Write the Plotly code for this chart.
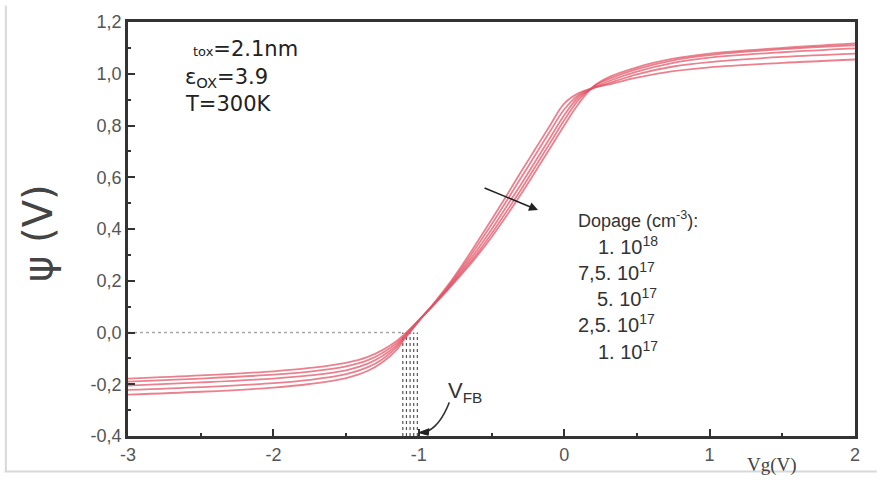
import plotly.graph_objects as go

# ---- data ----
vg = [-3.0, -2.5, -2.0, -1.75, -1.5, -1.35, -1.25, -1.15, -1.1, -1.05, -1.0, -0.9, -0.8, -0.7,
      -0.6, -0.5, -0.4, -0.3, -0.2, -0.1, 0.0, 0.1, 0.2, 0.3, 0.5, 0.75, 1.0, 1.5, 2.0]

psi_1e18 = [-0.178, -0.166, -0.150, -0.137, -0.117, -0.094, -0.068, -0.032, -0.007, 0.020, 0.048,
            0.105, 0.165, 0.228, 0.295, 0.368, 0.448, 0.532, 0.620, 0.710, 0.800, 0.885, 0.950,
            0.985, 1.025, 1.058, 1.078, 1.100, 1.117]
psi_75e17 = [-0.190, -0.178, -0.163, -0.151, -0.131, -0.107, -0.079, -0.040, -0.013, 0.017, 0.047,
             0.106, 0.168, 0.235, 0.305, 0.382, 0.465, 0.550, 0.640, 0.730, 0.820, 0.900, 0.950,
             0.978, 1.018, 1.052, 1.072, 1.095, 1.110]
psi_5e17 = [-0.205, -0.193, -0.178, -0.166, -0.146, -0.120, -0.091, -0.048, -0.018, 0.014, 0.046,
            0.107, 0.172, 0.243, 0.318, 0.398, 0.484, 0.570, 0.660, 0.750, 0.840, 0.910, 0.945,
            0.970, 1.008, 1.042, 1.062, 1.083, 1.098]
psi_25e17 = [-0.222, -0.211, -0.196, -0.183, -0.161, -0.134, -0.103, -0.056, -0.022, 0.011, 0.045,
             0.109, 0.177, 0.252, 0.333, 0.417, 0.505, 0.595, 0.685, 0.775, 0.862, 0.918, 0.945,
             0.962, 0.998, 1.028, 1.045, 1.065, 1.078]
psi_1e17 = [-0.240, -0.229, -0.213, -0.199, -0.176, -0.148, -0.115, -0.065, -0.027, 0.008, 0.044,
            0.111, 0.182, 0.262, 0.348, 0.436, 0.526, 0.618, 0.708, 0.798, 0.885, 0.925, 0.945,
            0.958, 0.985, 1.010, 1.025, 1.042, 1.055]

series = [("1. 10^18", psi_1e18), ("7,5. 10^17", psi_75e17), ("5. 10^17", psi_5e17),
          ("2,5. 10^17", psi_25e17), ("1. 10^17", psi_1e17)]

vfb = [-1.11, -1.085, -1.06, -1.035, -1.01]

y_ticks = [-0.4, -0.2, 0.0, 0.2, 0.4, 0.6, 0.8, 1.0, 1.2]
y_ticktext = ["-0,4", "-0,2", "0,0", "0,2", "0,4", "0,6", "0,8", "1,0", "1,2"]
x_ticks = [-3, -2, -1, 0, 1, 2]
x_ticktext = ["-3", "-2", "-1", "0", "1", "2"]

legend_lines = ["1. 10<sup>18</sup>", "7,5. 10<sup>17</sup>", "5. 10<sup>17</sup>",
                "2,5. 10<sup>17</sup>", "1. 10<sup>17</sup>"]

fig = go.Figure()

# dotted guide lines
fig.add_trace(go.Scatter(x=[-3, vfb[0]], y=[0, 0], mode="lines",
                         line=dict(color="#a8a8a8", width=1.6, dash="dot"),
                         showlegend=False, hoverinfo="skip"))
for v in vfb:
    fig.add_trace(go.Scatter(x=[v, v], y=[-0.4, 0.0], mode="lines",
                             line=dict(color="#555555", width=1.2, dash="dot"),
                             showlegend=False, hoverinfo="skip"))

for name, ys in series:
    fig.add_trace(go.Scatter(x=vg, y=ys, mode="lines", name=name,
                             line=dict(color="rgba(226,80,98,0.72)", width=1.8, shape="spline",
                                       smoothing=1.0),
                             showlegend=False))

tickfont = dict(family="Liberation Sans", size=18, color="#555555")
axis_common = dict(showline=True, linecolor="#333333", linewidth=2.8, mirror=True,
                   showgrid=False, zeroline=False, ticks="inside", ticklen=7, tickwidth=1.6,
                   tickcolor="#333333", tickfont=tickfont)

fig.update_xaxes(range=[-3, 2], tickvals=x_ticks, ticktext=x_ticktext,
                 minor=dict(dtick=0.5, ticks="inside", ticklen=3, tickcolor="#333333"),
                 **axis_common)
fig.update_yaxes(range=[-0.4, 1.2], tickvals=y_ticks, ticktext=y_ticktext,
                 minor=dict(dtick=0.1, ticks="inside", ticklen=3, tickcolor="#333333"),
                 **axis_common)

txt_font = dict(family="DejaVu Sans", size=21, color="#222222")
anns = []
# y-axis title
anns.append(dict(x=-0.124, y=0.49, xref="paper", yref="paper", xanchor="center", yanchor="middle",
                 text="ψ (V)", textangle=-90, showarrow=False,
                 font=dict(family="DejaVu Sans", size=40, color="#444444")))
# parameter box
anns.append(dict(x=-2.57, y=1.095, xref="x", yref="y", xanchor="left", yanchor="middle",
                 text="<span style='font-size:13px'>tox</span>=2.1nm", showarrow=False,
                 font=txt_font))
anns.append(dict(x=-2.62, y=0.985, xref="x", yref="y", xanchor="left", yanchor="middle",
                 text="ε<sub>OX</sub>=3.9", showarrow=False, font=txt_font))
anns.append(dict(x=-2.62, y=0.885, xref="x", yref="y", xanchor="left", yanchor="middle",
                 text="T=300K", showarrow=False, font=txt_font))
# doping legend
leg_font = dict(family="Liberation Sans", size=20, color="#333333")
anns.append(dict(x=0.08, y=0.435, xref="x", yref="y", xanchor="left", yanchor="middle",
                 text="Dopage (cm<sup>-3</sup>):", showarrow=False,
                 font=dict(family="Liberation Sans", size=18, color="#333333")))
leg_y = [0.338, 0.235, 0.135, 0.035, -0.068]
leg_x = [0.22, 0.08, 0.21, 0.08, 0.22]
for t, yy, xx in zip(legend_lines, leg_y, leg_x):
    anns.append(dict(x=xx, y=yy, xref="x", yref="y", xanchor="left", yanchor="middle",
                     text=t, showarrow=False, font=leg_font))
# V_FB label
anns.append(dict(x=-0.81, y=-0.228, xref="x", yref="y", xanchor="left", yanchor="middle",
                 text="V<sub>FB</sub>", showarrow=False,
                 font=dict(family="Liberation Sans", size=22, color="#333333")))
# doping-direction arrow
anns.append(dict(x=-0.18, y=0.473, ax=-0.558, ay=0.561, xref="x", yref="y", axref="x", ayref="y",
                 text="", showarrow=True, arrowhead=2, arrowsize=1.2, arrowwidth=1.5,
                 arrowcolor="#222222"))
# x-axis label
anns.append(dict(x=1.43, y=-0.07, xref="x", yref="paper", xanchor="center", yanchor="middle",
                 text="Vg(V)", showarrow=False,
                 font=dict(family="Liberation Serif", size=19, color="#444444")))
fig.update_layout(annotations=anns)

# curved arrow to V_FB
fig.add_shape(type="path", xref="x", yref="y",
              path="M -0.79,-0.27 Q -0.86,-0.37 -0.96,-0.385",
              line=dict(color="#333333", width=1.5))
fig.add_shape(type="path", xref="x", yref="y",
              path="M -1.0,-0.387 L -0.93,-0.372 L -0.935,-0.397 Z",
              fillcolor="#222222", line=dict(color="#222222", width=1))

# faint page frame
fig.add_shape(type="line", xref="paper", yref="paper", x0=-0.168, x1=-0.168, y0=-0.085, y1=1.04,
              line=dict(color="#d8d8d8", width=2))
fig.add_shape(type="line", xref="paper", yref="paper", x0=-0.17, x1=1.03, y0=-0.086, y1=-0.086,
              line=dict(color="#d8d8d8", width=2))

fig.update_layout(width=880, height=480, margin=dict(l=128, r=25, t=18, b=44),
                  paper_bgcolor="white", plot_bgcolor="white",
                  showlegend=False)

fig.write_html("out.html")
